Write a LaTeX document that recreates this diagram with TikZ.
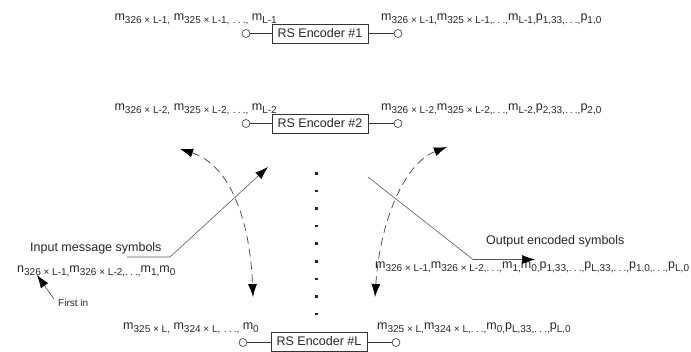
\documentclass[tikz,border=0pt]{standalone}
\usepackage{fontspec}
\setmainfont{Liberation Sans}
\usetikzlibrary{arrows.meta}
\newcommand\sbx[1]{\raisebox{-3pt}{\fontsize{10}{10}\selectfont #1}}
\newcommand\dts{.\kern2.2pt.\kern2.2pt.}
\begin{document}
\begin{tikzpicture}[x=1pt,y=-1pt,
  font=\fontsize{12.5}{14}\selectfont,
  encbox/.style={draw=black!80, line width=0.6pt, minimum width=96pt, minimum height=19pt, inner sep=0pt, fill=white, text=black!85},
  port/.style={circle, draw=black!80, line width=0.6pt, fill=white, minimum size=8pt, inner sep=0pt},
  wire/.style={draw=black!80, line width=0.6pt},
  lbl/.style={inner sep=0pt, text=black!85},
  bigtip/.style={-{Latex[length=13pt,width=9pt,color=black]}},
  solidarrow/.style={bigtip, draw=black!65, line width=0.6pt},
  dasharrow/.style={{Latex[length=13pt,width=9pt,color=black]}-{Latex[length=13pt,width=9pt,color=black]}, draw=black!75, line width=0.7pt, dash pattern=on 8pt off 5pt}
]
\useasboundingbox (0,0) rectangle (691,352);

% Encoder #1
\node[encbox] (e1) at (320,33.5) {RS Encoder \#1};
\node[port] (i1) at (246,33.5) {};
\node[port] (o1) at (398,33.5) {};
\draw[wire] (i1) -- (e1);
\draw[wire] (e1) -- (o1);
\node[lbl, anchor=base east] (t1l) at (277,21) {m\sbx{326 × L-1,} m\sbx{325 × L-1,} \sbx{\dts,} m\sbx{L-1}};
\node[lbl, anchor=base west] (t1r) at (381,21) {m\sbx{326 × L-1,}m\sbx{325 × L-1,\dts,}m\sbx{L-1,}p\sbx{1,33,\dts,}p\sbx{1,0}};

% Encoder #2
\node[encbox] (e2) at (320,123.5) {RS Encoder \#2};
\node[port] (i2) at (246,123.5) {};
\node[port] (o2) at (398,123.5) {};
\draw[wire] (i2) -- (e2);
\draw[wire] (e2) -- (o2);
\node[lbl, anchor=base east] (t2l) at (277,111) {m\sbx{326 × L-2,} m\sbx{325 × L-2,} \sbx{\dts,} m\sbx{L-2}};
\node[lbl, anchor=base west] (t2r) at (381,111) {m\sbx{326 × L-2,}m\sbx{325 × L-2,\dts,}m\sbx{L-2,}p\sbx{2,33,\dts,}p\sbx{2,0}};

% Encoder #L
\node[encbox] (eL) at (319,341.5) {RS Encoder \#L};
\node[port] (iL) at (243,342.5) {};
\node[port] (oL) at (396,342.5) {};
\draw[wire] (iL) -- (iL -| eL.west);
\draw[wire] (oL -| eL.east) -- (oL);
\node[lbl, anchor=base east] (tLl) at (259,329.5) {m\sbx{325 × L,} m\sbx{324 × L,} \sbx{\dts,} m\sbx{0}};
\node[lbl, anchor=base west] (tLr) at (377,329.5) {m\sbx{325 × L,}m\sbx{324 × L,\dts,}m\sbx{0,}p\sbx{L,33,\dts,}p\sbx{L,0}};

% vertical dots
\foreach \k in {0,...,8}
  \fill[black!85] (315,{172+17.6*\k}) rectangle ++(2.6,2.6);

% input side
\node[lbl, anchor=base west] (inlab) at (30,251.5) {Input message symbols};
\node[lbl, anchor=base west] (inseq) at (17,272.5) {n\sbx{326 × L-1,}m\sbx{326 × L-2,\dts,}m\sbx{1,}m\sbx{0}};
\node[lbl, anchor=base west, font=\fontsize{10}{12}\selectfont] (first) at (58,306.5) {First in};
\coordinate (fa) at (54,299);
\coordinate (fb) at (37,275);
\draw[solidarrow, draw=black!70] (fa) -- (fb);

\coordinate (ia) at (127,257);
\coordinate (ib) at (170,257);
\coordinate (ic) at (268,167);
\draw[solidarrow] (ia) -- (ib) -- (ic);

% output side
\node[lbl, anchor=base west] (outlab) at (486,244.5) {Output encoded symbols};
\node[lbl, anchor=base west] (outseq) at (375,268.5) {m\sbx{326 × L-1,}m\sbx{326 × L-2,\dts,}m\sbx{1,}m\sbx{0,}p\sbx{1,33,\dts,}p\sbx{L,33,\dts,}p\sbx{1,0,\dts,}p\sbx{L,0}};
\coordinate (oa) at (368,177);
\coordinate (ob) at (473,259.5);
\coordinate (oc) at (535,259.5);
\draw[solidarrow] (oa) -- (ob) -- (oc);

% dashed rotating arrows
\coordinate (dla) at (253,297);
\coordinate (dlb) at (180,149);
\draw[dasharrow] (dlb) .. controls (230,165) and (250,220) .. (dla);
\coordinate (dra) at (375,297);
\coordinate (drb) at (447,147);
\draw[dasharrow] (dra) .. controls (380,220) and (405,163) .. (drb);
\end{tikzpicture}
\end{document}
